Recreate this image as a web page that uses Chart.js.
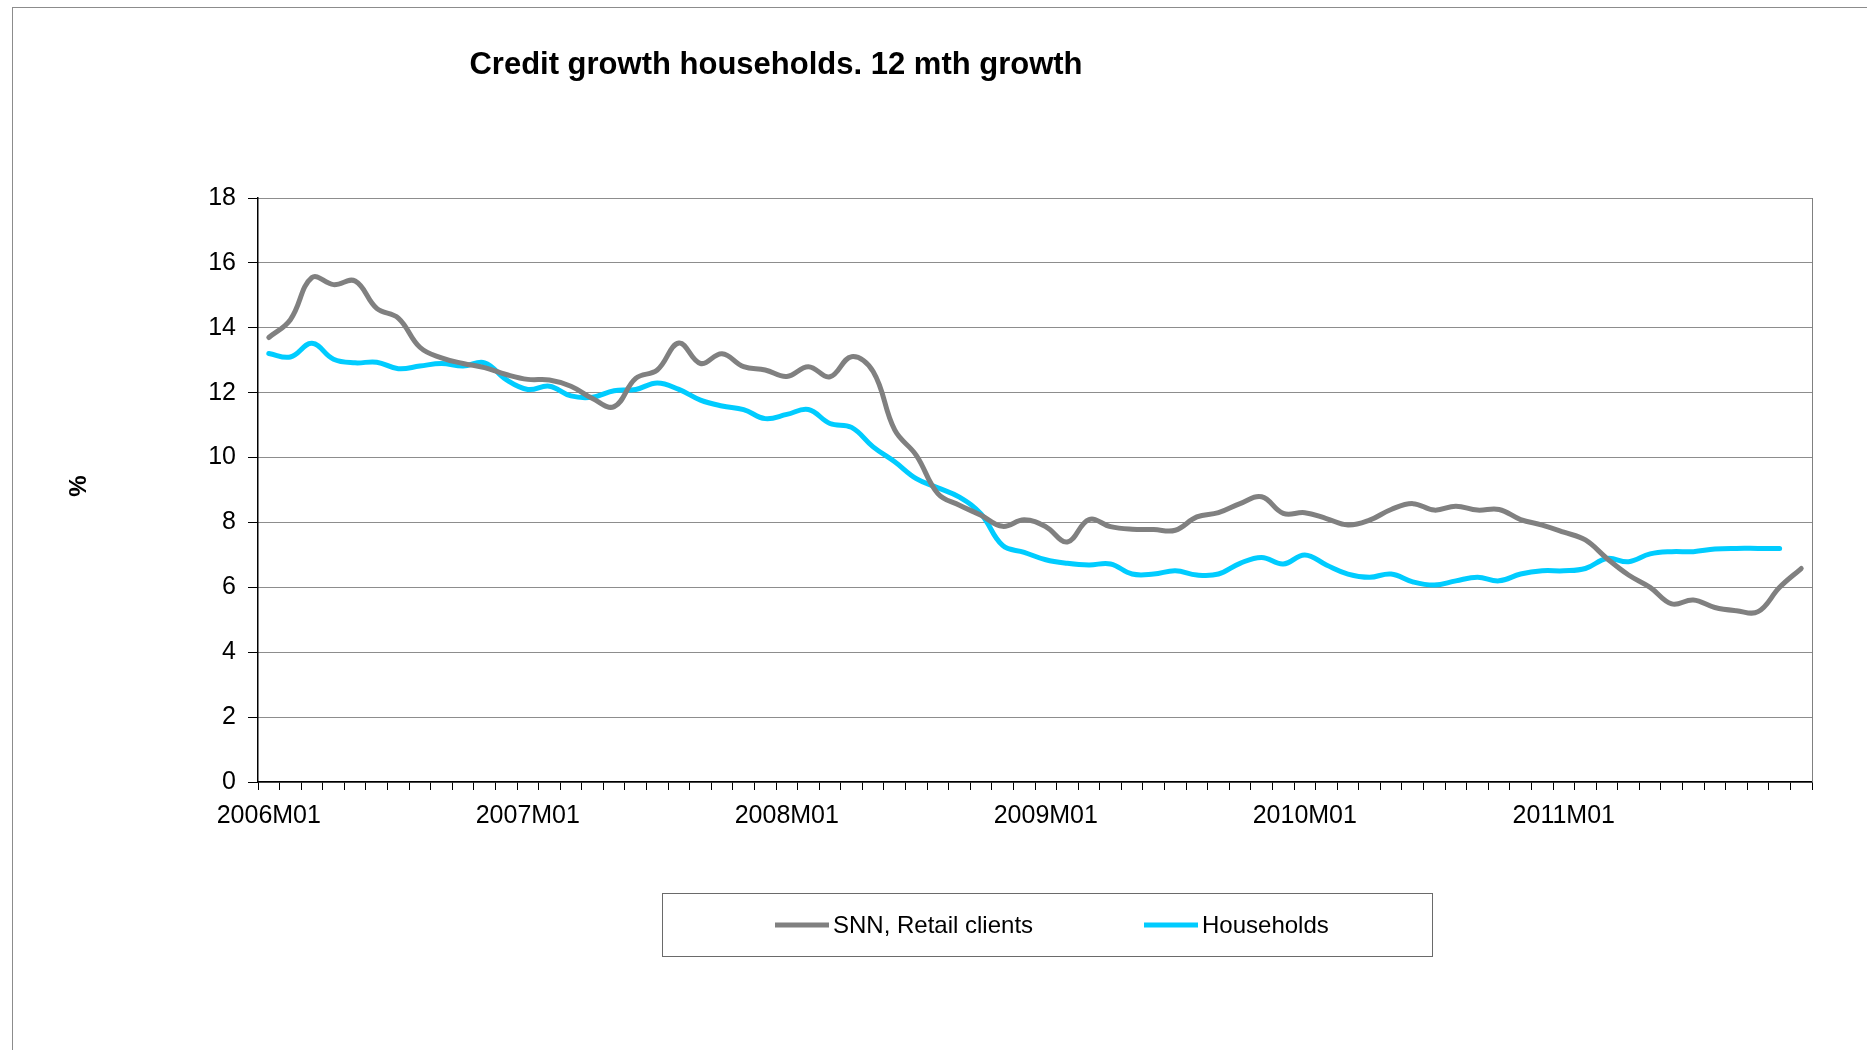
<!DOCTYPE html>
<html>
<head>
<meta charset="utf-8">
<title>Credit growth households</title>
<script src="https://cdn.jsdelivr.net/npm/chart.js@4.4.1/dist/chart.umd.min.js"></script>
<style>
    html, body { margin: 0; padding: 0; background: #fff; }
    #wrap { width: 1867px; height: 1050px; }
</style>
</head>
<body>
<div id="wrap"><canvas id="creditChart" width="1867" height="1050"></canvas></div>
<script>
// Monthly periods 2006M01 .. 2011M12
const years = [2006, 2007, 2008, 2009, 2010, 2011];
const months = [];
years.forEach(y => {
    for (let m = 1; m <= 12; m++) {
        months.push(y + 'M' + String(m).padStart(2, '0'));
    }
});

// 12 month growth, %
const snnRetail = [
    13.7, 14.25, 15.55, 15.33, 15.44, 14.6, 14.3, 13.4, 13.07, 12.9, 12.77, 12.56,
    12.41, 12.39, 12.2, 11.82, 11.57, 12.44, 12.7, 13.53, 12.9, 13.2, 12.8, 12.7,
    12.5, 12.8, 12.49, 13.11, 12.65, 10.85, 10.07, 8.89, 8.53, 8.22, 7.88, 8.08,
    7.87, 7.4, 8.09, 7.87, 7.79, 7.78, 7.76, 8.17, 8.3, 8.58, 8.79, 8.28,
    8.3, 8.12, 7.92, 8.07, 8.4, 8.58, 8.38, 8.5, 8.38, 8.4, 8.09, 7.92,
    7.7, 7.46, 6.89, 6.38, 6.0, 5.49, 5.61, 5.38, 5.28, 5.25, 6.0, 6.58
];
const households = [
    13.21, 13.1, 13.52, 13.03, 12.92, 12.94, 12.74, 12.82, 12.9, 12.82, 12.92, 12.4,
    12.1, 12.2, 11.9, 11.86, 12.06, 12.1, 12.3, 12.1, 11.77, 11.59, 11.48, 11.2,
    11.33, 11.48, 11.05, 10.93, 10.33, 9.87, 9.35, 9.07, 8.78, 8.26, 7.29, 7.08,
    6.85, 6.74, 6.69, 6.72, 6.41, 6.41, 6.51, 6.38, 6.41, 6.74, 6.92, 6.72,
    7.0, 6.69, 6.41, 6.31, 6.41, 6.17, 6.07, 6.2, 6.31, 6.2, 6.41, 6.51,
    6.51, 6.58, 6.89, 6.79, 7.03, 7.1, 7.1, 7.18, 7.2, 7.2, 7.2
];
const seriesNames = ['SNN, Retail clients', 'Households'];
const yTicks = [0, 2, 4, 6, 8, 10, 12, 14, 16, 18];

const chartTitle = 'Credit growth households. 12 mth growth';
const yTitle = '%';
const FONT = '"Liberation Sans", Arial, sans-serif';

// Title, axis title, boxed legend and frames
const decorations = {
    id: 'decorations',
    afterDraw(chart) {
        const ctx = chart.ctx;
        const area = chart.chartArea;
        ctx.save();

        // outer frame
        ctx.strokeStyle = '#8c8c8c';
        ctx.lineWidth = 1;
        ctx.strokeRect(12.5, 7.5, chart.width, chart.height);

        // right edge of plot area
        ctx.strokeStyle = '#808080';
        ctx.beginPath();
        ctx.moveTo(Math.round(area.right) + 0.5, area.top);
        ctx.lineTo(Math.round(area.right) + 0.5, area.bottom);
        ctx.stroke();

        ctx.fillStyle = '#000';
        ctx.textAlign = 'center';
        ctx.textBaseline = 'middle';
        ctx.font = 'bold 31px ' + FONT;
        ctx.fillText(chartTitle, 776, 65);

        ctx.save();
        ctx.translate(79, 486);
        ctx.rotate(-Math.PI / 2);
        ctx.font = 'bold 24px ' + FONT;
        ctx.fillText(yTitle, 0, 0);
        ctx.restore();

        // legend
        ctx.strokeStyle = '#6a6a6a';
        ctx.strokeRect(662.5, 893.5, 770, 63);
        const itemX = [775, 1144];
        ctx.textAlign = 'left';
        ctx.font = '24px ' + FONT;
        chart.data.datasets.forEach((ds, i) => {
            ctx.strokeStyle = ds.borderColor;
            ctx.lineWidth = 5;
            ctx.lineCap = 'butt';
            ctx.beginPath();
            ctx.moveTo(itemX[i], 925);
            ctx.lineTo(itemX[i] + 54, 925);
            ctx.stroke();
            ctx.fillStyle = '#000';
            ctx.fillText(ds.label, itemX[i] + 58, 926);
        });
        ctx.restore();
    }
};

const ctx = document.getElementById('creditChart').getContext('2d');
const creditChart = new Chart(ctx, {
    type: 'line',
    data: {
        labels: months,
        datasets: [{
            label: seriesNames[0],
            data: snnRetail,
            borderColor: '#808080',
            borderWidth: 5,
            borderCapStyle: 'round',
            pointRadius: 0,
            tension: 0.4,
            fill: false
        }, {
            label: seriesNames[1],
            data: households,
            borderColor: '#00ccff',
            borderWidth: 5,
            borderCapStyle: 'round',
            pointRadius: 0,
            tension: 0.4,
            fill: false
        }]
    },
    options: {
        responsive: false,
        animation: false,
        layout: {
            padding: { top: 198, right: 55, bottom: 188, left: 0 }
        },
        plugins: {
            legend: { display: false },
            title: { display: false },
            tooltip: { enabled: false }
        },
        scales: {
            x: {
                type: 'category',
                offset: true,
                afterFit(scale) { scale.height = 80; },
                grid: {
                    offset: true,
                    drawOnChartArea: false,
                    drawTicks: true,
                    tickLength: 8,
                    tickColor: '#000',
                    tickWidth: 1
                },
                border: { display: true, color: '#000', width: 1.5 },
                ticks: {
                    autoSkip: false,
                    maxRotation: 0,
                    minRotation: 0,
                    padding: 11,
                    color: '#000',
                    font: { family: FONT, size: 25 },
                    callback: (value, index) => months[index].endsWith('M01') ? months[index] : ''
                }
            },
            y: {
                min: yTicks[0],
                max: yTicks[yTicks.length - 1],
                afterFit(scale) { scale.width = 258; },
                afterBuildTicks(scale) {
                    scale.ticks = yTicks.map(v => ({ value: v }));
                },
                grid: {
                    color: '#1a1a1a',
                    lineWidth: 1,
                    drawTicks: true,
                    tickLength: 10,
                    tickColor: '#000',
                    tickWidth: 1
                },
                border: { display: true, color: '#000', width: 1.5, dash: [1, 1] },
                ticks: {
                    padding: 12,
                    color: '#000',
                    font: { family: FONT, size: 25 }
                }
            }
        }
    },
    plugins: [decorations]
});
</script>
</body>
</html>
